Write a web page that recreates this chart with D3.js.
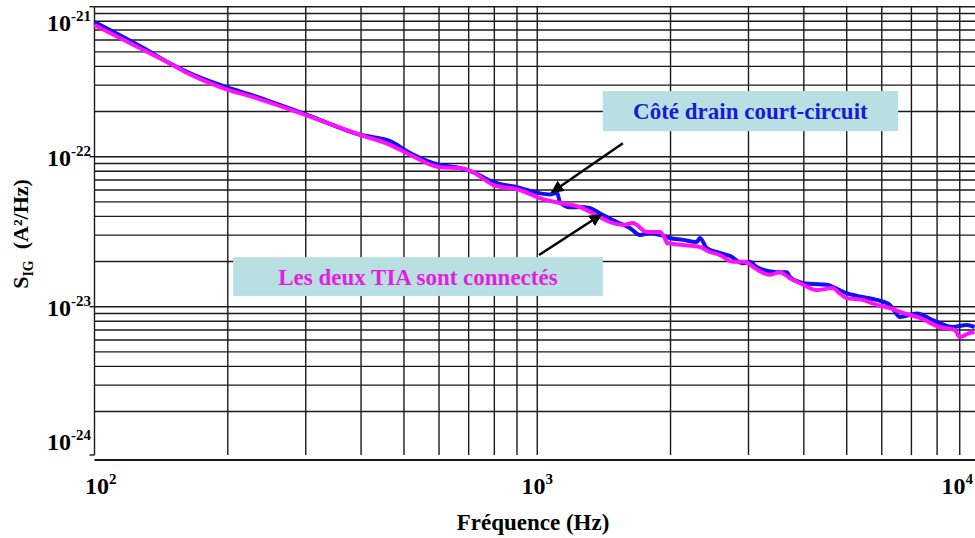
<!DOCTYPE html>
<html><head><meta charset="utf-8">
<script src="https://cdn.jsdelivr.net/npm/d3@7"></script>
<style>
html,body{margin:0;padding:0;background:#fff;}
svg{display:block;font-family:"Liberation Serif","DejaVu Serif",serif;font-weight:bold;}
</style></head>
<body><svg id="chart" width="975" height="538"></svg>
<script>
// ---- data ----
const blueFreq = [100,129,146,164,195,233,302,398,465,516,603,669,716,794,914,1014,1069,1109,1125,1186,1247,1314,1384,1513,1618,1706,1796,1892,1992,2131,2293,2329,2415,2585,2722,2913,3019,3130,3474,3662,3718,3913,4120,4505,4815,4995,5430,5843,6256,6590,7200,7820,8680,9330,9720];
const blueS = [7.9e-22,5.3e-22,4.28e-22,3.61e-22,2.96e-22,2.5e-22,1.9e-22,1.4e-22,1.27e-22,1.06e-22,8.8e-23,8.4e-23,7.9e-23,6.8e-23,6.2e-23,5.7e-23,5.6e-23,5.75e-23,5.0e-23,4.6e-23,4.62e-23,4.55e-23,4.2e-23,3.67e-23,3.35e-23,3.01e-23,3.1e-23,3.01e-23,2.87e-23,2.79e-23,2.7e-23,2.87e-23,2.46e-23,2.28e-23,2.18e-23,1.95e-23,1.99e-23,1.84e-23,1.7e-23,1.7e-23,1.58e-23,1.46e-23,1.42e-23,1.4e-23,1.29e-23,1.23e-23,1.16e-23,1.11e-23,1.03e-23,8.54e-24,9.0e-24,8.15e-24,7.32e-24,7.55e-24,7.32e-24];
const pinkFreq = [100,129,146,164,195,233,302,398,465,516,603,669,716,794,914,1014,1125,1247,1384,1458,1561,1644,1768,1892,1941,1963,2131,2329,2453,2585,2766,2942,3098,3350,3530,3718,3913,4275,4645,4815,4995,5430,5843,6256,6590,7310,8110,8770,8990,9480,9720];
const pinkS = [7.55e-22,5.15e-22,4.28e-22,3.55e-22,2.87e-22,2.45e-22,1.88e-22,1.4e-22,1.2e-22,1.03e-22,8.5e-23,8.4e-23,7.9e-23,6.5e-23,6.0e-23,5.3e-23,4.91e-23,4.62e-23,3.96e-23,3.67e-23,3.51e-23,3.61e-23,3.15e-23,3.15e-23,2.87e-23,2.66e-23,2.58e-23,2.5e-23,2.32e-23,2.21e-23,1.99e-23,1.99e-23,1.81e-23,1.63e-23,1.7e-23,1.55e-23,1.44e-23,1.29e-23,1.33e-23,1.23e-23,1.14e-23,1.11e-23,1.03e-23,9.8e-24,9.23e-24,8.41e-24,7.32e-24,7.0e-24,6.28e-24,6.68e-24,6.78e-24];
const xTickValues = [100,1000,10000];
const xTickExp = ["2","3","4"];
const yTickValues = [1e-21,1e-22,1e-23,1e-24];
const yTickExp = ["-21","-22","-23","-24"];
const xTitle = "Fréquence (Hz)";
const yTitleMain = "S", yTitleSub = "IG", yTitleRest = "  (A²/Hz)";
const notes = [
  {text:"Côté drain court-circuit", color:"#1a1ad6", box:[1406,6530,2.74e-22,1.48e-22], arrow:[1561,1.23e-22,1079,5.8e-23]},
  {text:"Les deux TIA sont connectés", color:"#e41ee0", box:[205.6,1406,2.14e-23,1.18e-23], arrow:[1009,2.21e-23,1393,4.1e-23]}
];

// ---- chart ----
const svg = d3.select("#chart");
const x = d3.scaleLog().domain([100,10000]).range([94.5,980]);
const y = d3.scaleLog().domain([1e-24,1e-21]).range([456.7,6.7]);
const xRight = 975, yBottom = 455;

// grid
const g = svg.append("g").attr("stroke","#1a1a1a").attr("stroke-width",1.4);
const hVals = [];
for (let e=-24;e<=-22;e++) for (let m=1;m<=9;m++) hVals.push(m*Math.pow(10,e));
hVals.push(1e-21);
g.selectAll("line.h").data(hVals.filter(v=>v>1.5e-24)).join("line")
  .attr("x1",x(100)).attr("x2",xRight).attr("y1",d=>y(d)).attr("y2",d=>y(d));
const vVals = [];
for (let e=2;e<=3;e++) for (let m=1;m<=9;m++) vVals.push(m*Math.pow(10,e));
g.selectAll("line.v").data(vVals).join("line")
  .attr("x1",d=>x(d)).attr("x2",d=>x(d)).attr("y1",y(1e-21)).attr("y2",yBottom);
// y tick marks
g.selectAll("line.t").data(yTickValues).join("line")
  .attr("x1",x(100)-5).attr("x2",x(100)).attr("y1",d=>Math.min(y(d),yBottom)).attr("y2",d=>Math.min(y(d),yBottom));
// x axis line
svg.append("line").attr("x1",x(100)).attr("x2",xRight).attr("y1",460).attr("y2",460)
  .attr("stroke","#1a1a1a").attr("stroke-width",1.8);

// curves
const line = d3.line().x(d=>x(d[0])).y(d=>y(d[1])).curve(d3.curveMonotoneX);
const plot = svg.append("g");
plot.append("path").datum(blueFreq.map((f,i)=>[f,blueS[i]]))
  .attr("d",line).attr("fill","none").attr("stroke","#1010f0").attr("stroke-width",4).attr("stroke-linejoin","round");
plot.append("path").datum(pinkFreq.map((f,i)=>[f,pinkS[i]]))
  .attr("d",line).attr("fill","none").attr("stroke","#ff10ff").attr("stroke-width",4).attr("stroke-linejoin","round");

// tick labels
const xl = svg.append("g").attr("font-size",24);
xTickValues.forEach((v,i)=>{
  const t = xl.append("text").attr("y",494);
  t.append("tspan").text("10");
  t.append("tspan").attr("dy",-10).attr("font-size",15).text(xTickExp[i]);
  const w = t.node().getComputedTextLength();
  let cx = x(v) - w/2;
  cx = Math.max(85, Math.min(cx, 973 - w));
  t.attr("x",cx);
});
const yl = svg.append("g").attr("font-size",24);
yTickValues.forEach((v,i)=>{
  const base = Math.max(31, Math.min(y(v)+9, 450));
  const t = yl.append("text").attr("y",base);
  t.append("tspan").text("10");
  t.append("tspan").attr("dy",-10).attr("font-size",15).text(yTickExp[i]);
  const w = t.node().getComputedTextLength();
  t.attr("x",91 - w);
});

// titles
svg.append("text").attr("x",533).attr("y",530).attr("text-anchor","middle").attr("font-size",23).text(xTitle);
const yt = svg.append("text").attr("transform","translate(28,234) rotate(-90)").attr("text-anchor","middle").attr("font-size",22);
yt.append("tspan").text(yTitleMain);
yt.append("tspan").attr("dy",5).attr("font-size",14).text(yTitleSub);
yt.append("tspan").attr("dy",-5).attr("xml:space","preserve").style("white-space","pre").text(yTitleRest);

// annotations
svg.append("defs").append("marker").attr("id","arr").attr("viewBox","0 0 10 10")
  .attr("refX",9).attr("refY",5).attr("markerWidth",5).attr("markerHeight",5).attr("orient","auto")
  .append("path").attr("d","M0,0 L10,5 L0,10 z").attr("fill","#000");
notes.forEach(n=>{
  const [f0,f1,v0,v1] = n.box;
  svg.append("rect").attr("x",x(f0)).attr("y",y(v0)).attr("width",x(f1)-x(f0)).attr("height",y(v1)-y(v0)).attr("fill","#b8dfe1");
  svg.append("text").attr("x",(x(f0)+x(f1))/2).attr("y",(y(v0)+y(v1))/2+8).attr("text-anchor","middle")
    .attr("font-size",23).attr("fill",n.color).text(n.text);
  const [af,av,bf,bv] = n.arrow;
  svg.append("line").attr("x1",x(af)).attr("y1",y(av)).attr("x2",x(bf)).attr("y2",y(bv))
    .attr("stroke","#000").attr("stroke-width",2.5).attr("marker-end","url(#arr)");
});
</script></body></html>
